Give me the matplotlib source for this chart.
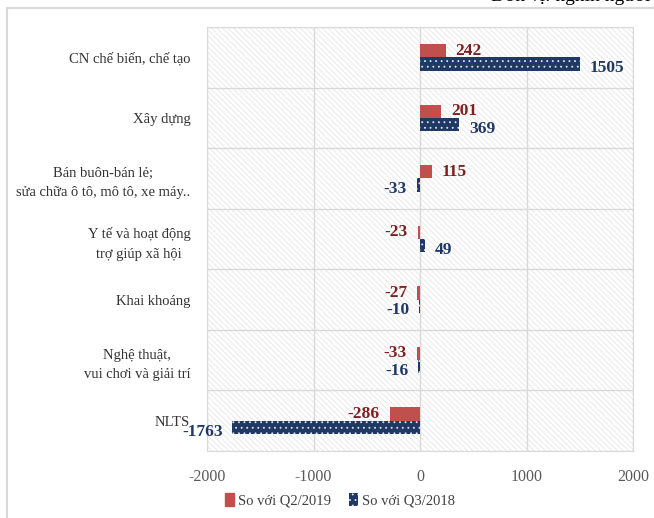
import numpy as np
import matplotlib.pyplot as plt
from matplotlib.patches import Rectangle, Patch
from matplotlib.lines import Line2D

plt.rcParams['font.family'] = ['Liberation Serif', 'DejaVu Serif']
plt.rcParams['hatch.linewidth'] = 0.6

# data (thousand people)
categories = ["CN chế biến, chế tạo",
              "Xây dựng",
              "Bán buôn-bán lẻ;\nsửa chữa ô tô, mô tô, xe máy..",
              "Y tế và hoạt động\ntrợ giúp xã hội",
              "Khai khoáng",
              "Nghệ thuật,\nvui chơi và giải trí",
              "NLTS"]
vs_q2_2019 = [242, 201, 115, -23, -27, -33, -286]
vs_q3_2018 = [1505, 369, -33, 49, -10, -16, -1763]
series_names = ["So với Q2/2019", "So với Q3/2018"]
xticks = [-2000, -1000, 0, 1000, 2000]

red = '#C0504D'
navy = '#1F3864'
red_txt = '#7F1F1F'
navy_txt = '#1F3864'
grid_c = '#D9D9D9'

fig = plt.figure(figsize=(6.54, 5.18), dpi=100)
ax = fig.add_axes([0.3165, 0.1293, 0.6515, 0.8186])

n = len(categories)
y = np.arange(n)
h = 0.22

# hatched background of plot area
bg = Rectangle((0, 0), 1, 1, transform=ax.transAxes, facecolor='white',
               edgecolor='#E6E6E6', hatch='\\\\\\\\\\\\', linewidth=0, zorder=0)
ax.add_patch(bg)

b1 = ax.barh(y - h / 2, vs_q2_2019, height=h, color=red, zorder=3)
b2 = ax.barh(y + h / 2, vs_q3_2018, height=h, color=navy, edgecolor='#DDE3EE',
             hatch='...', linewidth=0, zorder=3)

ax.set_ylim(n - 0.5, -0.5)
ax.set_xlim(-2000, 2000)
ax.set_xticks(xticks)
ax.set_xticklabels([str(t) for t in xticks])
ax.set_yticks(y)
ax.set_yticklabels(categories)
for lab in ax.get_yticklabels():
    lab.set_multialignment('center')
    lab.set_linespacing(1.65)

ax.tick_params(axis='both', length=0)
ax.tick_params(axis='y', pad=12, labelsize=10.5, labelcolor='#333333')
ax.tick_params(axis='x', pad=13, labelsize=11.5, labelcolor='#595959')

# grid
for t in xticks:
    ax.axvline(t, color=grid_c, lw=1, zorder=1)
for b in np.arange(n + 1) - 0.5:
    ax.axhline(b, color=grid_c, lw=1, zorder=1)
for s in ax.spines.values():
    s.set_color(grid_c)

# data labels
for i, v in enumerate(vs_q2_2019):
    off = 7 if v >= 0 else -7
    ax.annotate(str(v), (v, i - h / 2), xytext=(off, 0), textcoords='offset points',
                ha='left' if v >= 0 else 'right', va='center', fontsize=12.5,
                fontweight='bold', color=red_txt, zorder=4)
for i, v in enumerate(vs_q3_2018):
    off = 7 if v >= 0 else -7
    ax.annotate(str(v), (v, i + h / 2), xytext=(off, -3), textcoords='offset points',
                ha='left' if v >= 0 else 'right', va='center', fontsize=12.5,
                fontweight='bold', color=navy_txt, zorder=4)

# legend
handles = [Patch(facecolor=red, edgecolor=red, label=series_names[0]),
           Patch(facecolor=navy, edgecolor='#DDE3EE', hatch='...', linewidth=0,
                 label=series_names[1])]
fig.legend(handles=handles, loc='center', bbox_to_anchor=(0.52, 0.035), ncol=2,
           frameon=False, fontsize=10.5, handlelength=0.6, handleheight=1.0,
           handletextpad=0.3, columnspacing=1.2, labelcolor='#404040')

# outer frame and unit note (cropped at the top, as in the source)
fig.add_artist(Line2D([7 / 654, 1], [1 - 8 / 518] * 2, color=grid_c, lw=1.5))
fig.add_artist(Line2D([7 / 654] * 2, [0, 1 - 8 / 518], color=grid_c, lw=1.5))
fig.text(0.995, 1 - 1 / 518, "Đơn vị: nghìn người", ha='right', va='baseline',
         fontsize=14, color='black')

fig.savefig('out.png', dpi=100)
